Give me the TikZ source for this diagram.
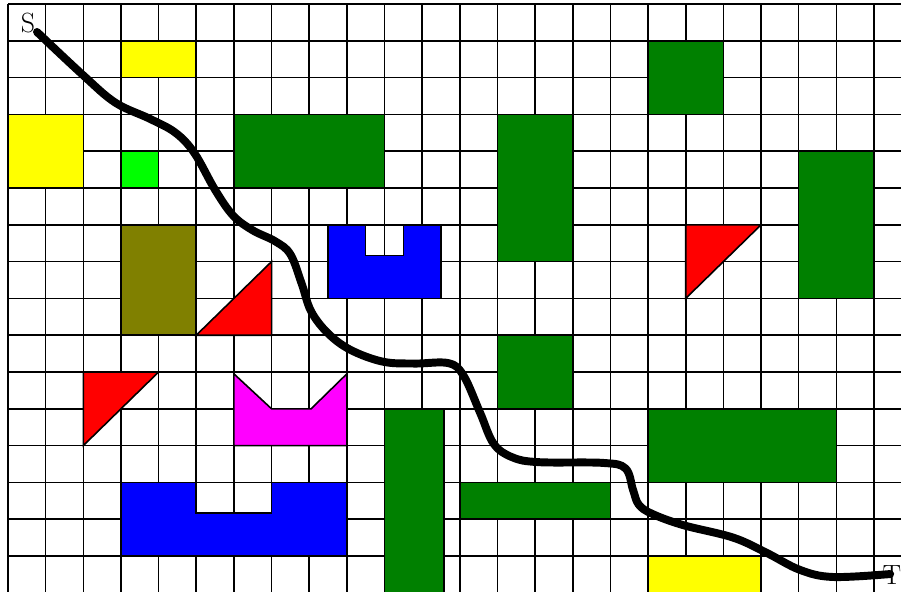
\documentclass[tikz,border=0pt]{standalone}
\usetikzlibrary{positioning}
\definecolor{obsyellow}{HTML}{FFFF00}
\definecolor{obslime}{HTML}{00FF00}
\definecolor{obsgreen}{HTML}{008000}
\definecolor{obsolive}{HTML}{808000}
\definecolor{obsblue}{HTML}{0000FF}
\definecolor{obsred}{HTML}{FF0000}
\definecolor{obsmagenta}{HTML}{FF00FF}

\begin{document}
\begin{tikzpicture}[
  x=1cm, y=-0.9774cm,
  gridline/.style={draw=black, line width=1.2pt},
  obst/.style={draw=black, line width=1.2pt},
  route/.style={draw=black, line width=6pt, line cap=round, line join=round},
  endlbl/.style={font=\fontsize{21}{21}\selectfont, inner sep=0pt},
]

% frame of the picture (cells are 1 unit)
\useasboundingbox (-0.2125,-0.109) rectangle (23.718,15.978);
\clip (-0.2125,-0.109) rectangle (23.718,15.978);

% ---------- grid ----------
\foreach \c in {0,...,24} {
  \draw[gridline] (\c,0) -- (\c,16);
}
\foreach \r in {0,...,16} {
  \draw[gridline] (0,\r) -- (24,\r);
}

% ---------- yellow cells ----------
\path[obst, fill=obsyellow] (3,1) rectangle (5,2);
\path[obst, fill=obsyellow] (0,3) rectangle (2,5);
\path[obst, fill=obsyellow] (17,15) rectangle (20,16.5);

% ---------- lime / olive ----------
\path[obst, fill=obslime] (3,4) rectangle (4,5);
\path[obst, fill=obsolive] (3,6) rectangle (5,9);

% ---------- green blocks ----------
\path[obst, fill=obsgreen] (6,3) rectangle (10,5);
\path[obst, fill=obsgreen] (17,1) rectangle (19,3);
\path[obst, fill=obsgreen] (13,3) rectangle (15,7);
\path[obst, fill=obsgreen] (21,4) rectangle (23,8);
\path[obst, fill=obsgreen] (13,9) rectangle (15,11);
\path[obst, fill=obsgreen] (10,11) rectangle (11.58,16.5);
\path[obst, fill=obsgreen] (12,13) rectangle (16,14);
\path[obst, fill=obsgreen] (17,11) rectangle (22,13);

% ---------- blue U shapes ----------
\path[obst, fill=obsblue] (8.5,6) -- (9.5,6) -- (9.5,6.83) -- (10.5,6.83)
  -- (10.5,6) -- (11.5,6) -- (11.5,8) -- (8.5,8) -- cycle;
\path[obst, fill=obsblue] (3,13) -- (5,13) -- (5,13.83) -- (7,13.83)
  -- (7,13) -- (9,13) -- (9,15) -- (3,15) -- cycle;

% ---------- red triangles ----------
\path[obst, fill=obsred] (5,9) -- (7,7) -- (7,9) -- cycle;
\path[obst, fill=obsred] (2,10) -- (4,10) -- (2,12) -- cycle;
\path[obst, fill=obsred] (18,6) -- (20,6) -- (18,8) -- cycle;

% ---------- magenta notch ----------
\path[obst, fill=obsmagenta] (6,10.05) -- (7,11) -- (8.05,11) -- (9,10.05)
  -- (9,12) -- (6,12) -- cycle;

% ---------- route S -> T ----------
\coordinate (src) at (0.77,0.76);
\coordinate (dst) at (23.43,15.49);
\draw[route] plot[smooth, tension=0.6] coordinates {
  (src) (1.99,1.93) (2.85,2.68) (3.77,3.12) (4.45,3.5) (4.95,4.05)
  (5.5,5.05) (5.98,5.75) (6.5,6.15) (7.1,6.45) (7.5,6.8) (7.8,7.6)
  (8.05,8.35) (8.5,8.95) (9.1,9.40) (9.96,9.72) (10.8,9.77) (11.7,9.76)
  (12.1,10.1) (12.54,11.11) (12.9,11.95) (13.4,12.32) (14.1,12.45)
  (15.8,12.47) (16.4,12.62) (16.6,13.2) (16.75,13.6) (17.1,13.85)
  (17.93,14.16) (19.26,14.5) (20.16,14.92) (21.04,15.38) (21.91,15.57)
  (dst)};

% end labels
\node[endlbl] (slbl) at (0.53,0.52) {S};
\node[endlbl, anchor=west] (tlbl) at (23.22,15.53) {T};

\end{tikzpicture}
\end{document}
